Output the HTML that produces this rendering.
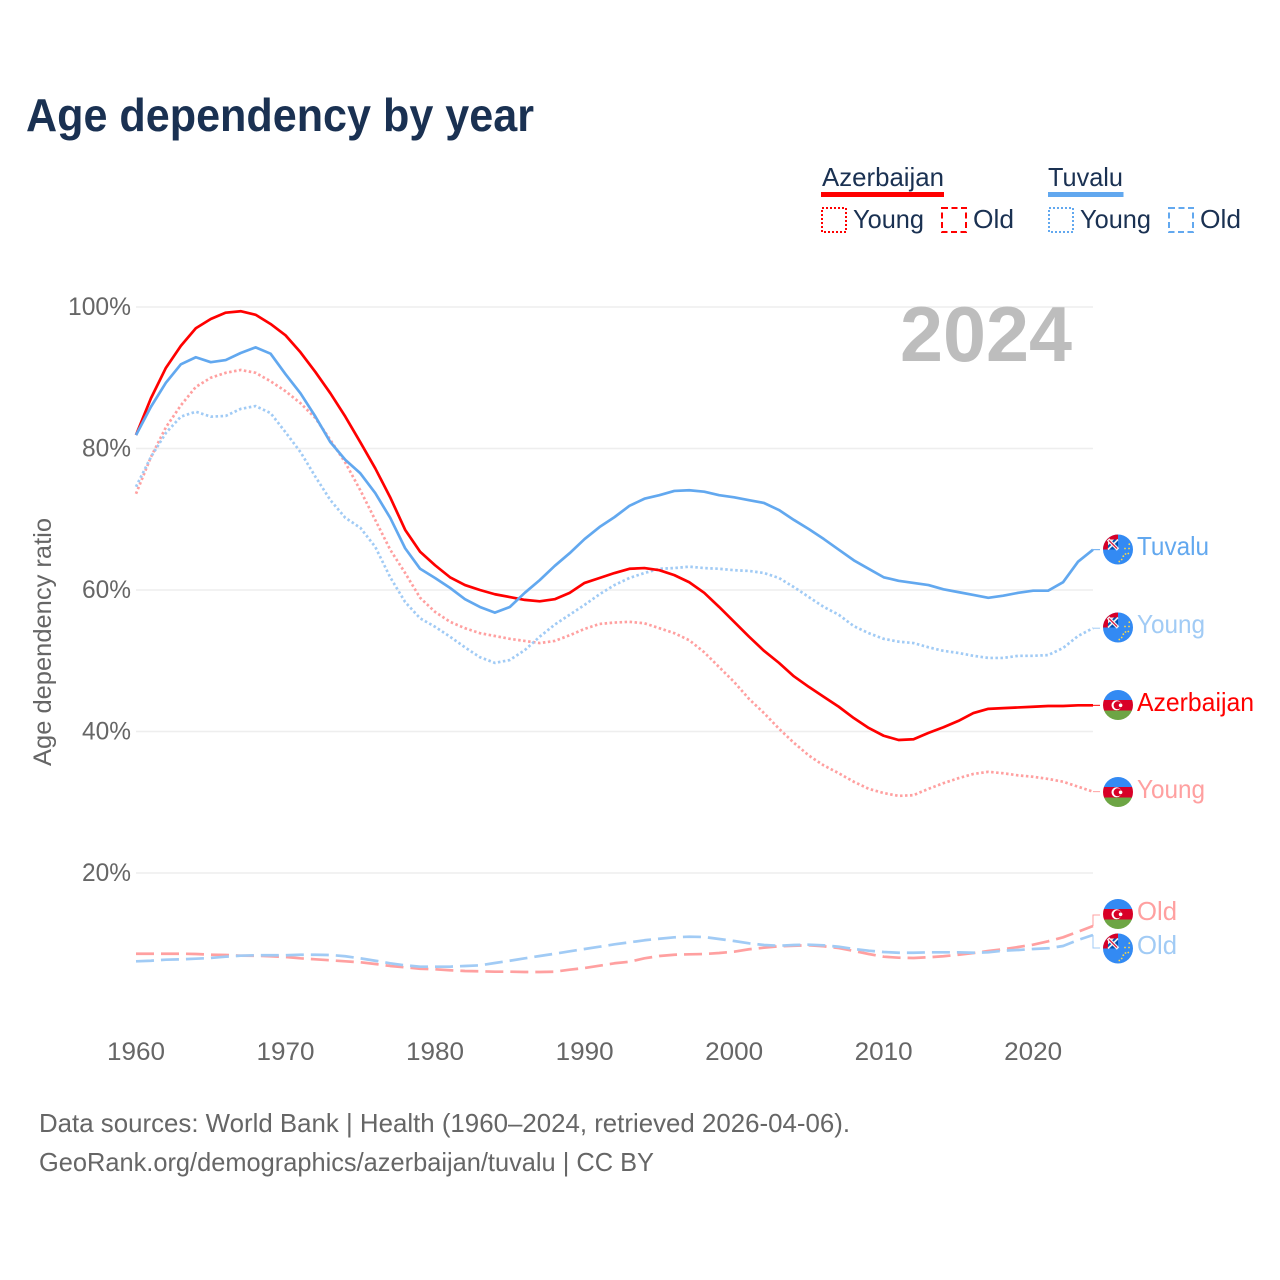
<!DOCTYPE html>
<html lang="en">
<head>
<meta charset="utf-8">
<title>Age dependency by year</title>
<style>
html,body{margin:0;padding:0;background:#fff;}
svg{display:block;font-family:"Liberation Sans",sans-serif;}
</style>
</head>
<body>
<svg id="chart" xmlns="http://www.w3.org/2000/svg" width="1280" height="1280" viewBox="0 0 1280 1280">
<defs>
<clipPath id="flag-clip"><circle cx="0" cy="0" r="15"/></clipPath>
<g id="flag-az" clip-path="url(#flag-clip)">
<rect x="-15" y="-15" width="30" height="10" fill="#338af3"/>
<rect x="-15" y="-5" width="30" height="10.5" fill="#d80027"/>
<rect x="-15" y="5.5" width="30" height="10" fill="#6da544"/>
<circle cx="-1.5" cy="0.3" r="5" fill="#fff"/>
<circle cx="-0.4" cy="0.3" r="4" fill="#d80027"/>
<circle cx="2.6" cy="0.3" r="1.8" fill="#fff"/>
</g>
<g id="flag-tv" clip-path="url(#flag-clip)">
<rect x="-15" y="-15" width="30" height="30" fill="#338af3"/>
<rect x="-15" y="-15" width="15" height="15" fill="#d80027"/>
<rect x="-10" y="-10" width="10" height="10" fill="#0052b4"/>
<line x1="-10" y1="-10" x2="0" y2="0" stroke="#f0f0f0" stroke-width="3.4"/>
<line x1="-10" y1="0" x2="0" y2="-10" stroke="#f0f0f0" stroke-width="1.6"/>
<polygon points="-10,-10 -4,-10 -10,-4" fill="#f0f0f0"/>
<line x1="-9" y1="-9" x2="-1" y2="-1" stroke="#d80027" stroke-width="1.1"/>
<circle cx="11.3" cy="-5.3" r="0.9" fill="#ffda44"/>
<circle cx="7" cy="-1" r="0.9" fill="#ffda44"/>
<circle cx="10.3" cy="4" r="0.9" fill="#ffda44"/>
<circle cx="11" cy="-1" r="0.9" fill="#ffda44"/>
<circle cx="5.3" cy="6.7" r="0.9" fill="#ffda44"/>
<circle cx="7.5" cy="4.5" r="0.9" fill="#ffda44"/>
<circle cx="3.7" cy="10" r="0.9" fill="#ffda44"/>
<circle cx="1.3" cy="12" r="0.9" fill="#ffda44"/>
</g>
</defs>

<text x="26" y="131" font-size="46" font-weight="700" fill="#1a3152" textLength="508" lengthAdjust="spacingAndGlyphs">Age dependency by year</text>

<g font-size="26" fill="#1a3152">
<text x="822" y="186" textLength="122" lengthAdjust="spacingAndGlyphs">Azerbaijan</text>
<rect x="821" y="192" width="123" height="5" fill="#ff0000"/>
<rect x="822" y="208" width="24" height="24" fill="none" stroke="#ff0000" stroke-width="2" stroke-dasharray="2 2"/>
<text x="853" y="228" textLength="71" lengthAdjust="spacingAndGlyphs">Young</text>
<rect x="942" y="208" width="24" height="24" fill="none" stroke="#ff0000" stroke-width="2" stroke-dasharray="6 3.5"/>
<text x="973" y="228" textLength="41" lengthAdjust="spacingAndGlyphs">Old</text>
<text x="1048" y="186" textLength="75" lengthAdjust="spacingAndGlyphs">Tuvalu</text>
<rect x="1048" y="192" width="75.500" height="5" fill="#62a8ef"/>
<rect x="1049" y="208" width="24" height="24" fill="none" stroke="#62a8ef" stroke-width="2" stroke-dasharray="2 2"/>
<text x="1080" y="228" textLength="71" lengthAdjust="spacingAndGlyphs">Young</text>
<rect x="1169" y="208" width="24" height="24" fill="none" stroke="#62a8ef" stroke-width="2" stroke-dasharray="6 3.5"/>
<text x="1200" y="228" textLength="41" lengthAdjust="spacingAndGlyphs">Old</text>
</g>

<text transform="translate(51,642) rotate(-90)" text-anchor="middle" font-size="25" fill="#666" textLength="248" lengthAdjust="spacingAndGlyphs">Age dependency ratio</text>

<g id="grid"></g>
<g id="y-ticks" font-size="25" fill="#666" text-anchor="end"></g>
<g id="x-ticks" font-size="25" fill="#666" text-anchor="middle"></g>

<text x="900" y="361" font-size="78" font-weight="700" fill="#bdbdbd" textLength="172" lengthAdjust="spacingAndGlyphs">2024</text>

<g id="series"></g>

<g font-size="26">
<use href="#flag-tv" x="1118" y="549.5"/>
<text x="1137" y="555" fill="#62a8ef" textLength="72" lengthAdjust="spacingAndGlyphs">Tuvalu</text>
<use href="#flag-tv" x="1118" y="627.500"/>
<text x="1137" y="633" fill="#a1cbf5" textLength="68" lengthAdjust="spacingAndGlyphs">Young</text>
<use href="#flag-az" x="1118" y="705"/>
<text x="1137" y="711" fill="#ff0000" textLength="117" lengthAdjust="spacingAndGlyphs">Azerbaijan</text>
<use href="#flag-az" x="1118" y="792"/>
<text x="1137" y="798" fill="#ffa0a0" textLength="68" lengthAdjust="spacingAndGlyphs">Young</text>
<use href="#flag-az" x="1118" y="914"/>
<text x="1137" y="920" fill="#ffa0a0" textLength="40" lengthAdjust="spacingAndGlyphs">Old</text>
<use href="#flag-tv" x="1118" y="948.500"/>
<text x="1137" y="954" fill="#a1cbf5" textLength="40" lengthAdjust="spacingAndGlyphs">Old</text>
</g>

<g font-size="26" fill="#666">
<text x="39" y="1132" textLength="811" lengthAdjust="spacingAndGlyphs">Data sources: World Bank | Health (1960–2024, retrieved 2026-04-06).</text>
<text x="39" y="1171" textLength="615" lengthAdjust="spacingAndGlyphs">GeoRank.org/demographics/azerbaijan/tuvalu | CC BY</text>
</g>
</svg>

<script>
const firstYear = 1960;
const xTickYears = [1960, 1970, 1980, 1990, 2000, 2010, 2020];
const yTickValues = [20, 40, 60, 80, 100];

const azerbaijanTotal = [81.9,87.1,91.4,94.5,97.0,98.3,99.2,99.4,98.9,97.6,96.0,93.6,90.8,87.8,84.5,80.9,77.2,73.1,68.5,65.4,63.5,61.8,60.7,60.0,59.4,59.0,58.6,58.4,58.7,59.6,61.0,61.7,62.4,63.0,63.1,62.8,62.1,61.1,59.6,57.6,55.5,53.4,51.4,49.7,47.8,46.3,44.9,43.5,41.9,40.5,39.4,38.8,38.9,39.8,40.6,41.5,42.6,43.2,43.3,43.4,43.5,43.6,43.6,43.7,43.7];
const azerbaijanYoung = [73.6,78.8,83.0,86.1,88.7,90.0,90.7,91.1,90.7,89.5,88.1,86.4,84.3,81.2,78.0,74.1,69.9,65.7,62.4,58.9,56.9,55.5,54.6,53.9,53.5,53.1,52.8,52.5,52.8,53.6,54.5,55.2,55.4,55.5,55.3,54.6,53.9,52.9,51.2,49.1,47.0,44.6,42.6,40.4,38.4,36.6,35.2,34.1,32.9,31.9,31.3,30.9,31.0,31.9,32.7,33.4,34.0,34.3,34.1,33.8,33.6,33.3,32.9,32.2,31.5];
const azerbaijanOld = [8.59,8.59,8.59,8.59,8.55,8.45,8.41,8.31,8.30,8.23,8.13,7.94,7.80,7.66,7.52,7.38,7.14,6.86,6.67,6.47,6.39,6.25,6.15,6.11,6.05,6.05,6.01,6.01,6.05,6.33,6.57,6.90,7.24,7.46,7.94,8.27,8.45,8.51,8.55,8.69,8.88,9.22,9.44,9.64,9.72,9.78,9.64,9.40,8.98,8.55,8.17,8.03,7.99,8.09,8.23,8.45,8.69,8.98,9.22,9.54,9.87,10.35,10.91,11.70,12.51];
const tuvaluTotal = [81.9,85.9,89.3,91.9,92.9,92.2,92.5,93.5,94.3,93.4,90.5,87.8,84.5,80.9,78.4,76.5,73.7,70.2,65.9,63.0,61.7,60.3,58.7,57.6,56.8,57.6,59.6,61.4,63.4,65.2,67.2,68.9,70.3,71.9,72.9,73.4,74.0,74.1,73.9,73.4,73.1,72.7,72.3,71.3,69.9,68.6,67.2,65.7,64.2,63.0,61.8,61.3,61.0,60.7,60.1,59.7,59.3,58.9,59.2,59.6,59.9,59.9,61.1,64.0,65.7];
const tuvaluYoung = [74.6,78.8,82.2,84.5,85.2,84.5,84.6,85.6,86.0,85.0,82.3,79.5,76.0,72.7,70.2,68.8,66.1,61.8,58.3,56.0,54.8,53.4,51.9,50.5,49.7,50.1,51.5,53.4,55.1,56.5,57.9,59.4,60.7,61.7,62.4,63.0,63.1,63.3,63.1,63.0,62.8,62.7,62.4,61.7,60.4,59.0,57.6,56.5,54.9,53.9,53.1,52.7,52.5,51.9,51.4,51.1,50.7,50.4,50.4,50.7,50.7,50.8,51.8,53.5,54.6];
const tuvaluOld = [7.52,7.60,7.75,7.80,7.89,7.99,8.17,8.31,8.37,8.37,8.37,8.45,8.45,8.41,8.23,7.94,7.60,7.24,6.95,6.76,6.76,6.76,6.86,6.95,7.28,7.60,7.94,8.27,8.59,8.93,9.26,9.58,9.92,10.20,10.49,10.71,10.91,11.00,10.95,10.67,10.39,10.06,9.82,9.72,9.82,9.87,9.78,9.58,9.26,9.02,8.83,8.73,8.73,8.79,8.79,8.79,8.73,8.79,9.02,9.12,9.26,9.36,9.68,10.53,11.24];

const svgNS = 'http://www.w3.org/2000/svg';
const xScale = function (year) { return 136 + (year - firstYear) * 14.953; };
const yScale = function (value) { return 873 - (value - 20) * 7.075; };
const makeEl = function (tag) { return document.createElementNS(svgNS, tag); };

const gridGroup = document.getElementById('grid');
const yTickGroup = document.getElementById('y-ticks');
const xTickGroup = document.getElementById('x-ticks');
const seriesGroup = document.getElementById('series');

yTickValues.forEach(function (v) {
  const line = makeEl('line');
  
  
  line.setAttribute('x1', 136);
  line.setAttribute('x2', xScale(2024));
  line.setAttribute('y1', yScale(v));
  line.setAttribute('y2', yScale(v));
  line.setAttribute('stroke', '#eeeeee');
  line.setAttribute('stroke-width', 1.6);
  gridGroup.appendChild(line);

  const label = makeEl('text');
  
  
  label.setAttribute('x', 131);
  label.setAttribute('y', yScale(v) + 8);
  label.setAttribute('textLength', v === 100 ? 63 : 49);
  label.setAttribute('lengthAdjust', 'spacingAndGlyphs');
  label.textContent = v + '%';
  yTickGroup.appendChild(label);
});

xTickYears.forEach(function (yr) {
  const label = makeEl('text');
  
  
  label.setAttribute('x', xScale(yr));
  label.setAttribute('y', 1060);
  label.setAttribute('textLength', 58);
  label.setAttribute('lengthAdjust', 'spacingAndGlyphs');
  label.textContent = yr;
  xTickGroup.appendChild(label);
});

const drawLine = function (values, name, color, dash, endY, endX) {
  const pts = values.map(function (v, i) {
    return xScale(firstYear + i).toFixed(2) + ',' + yScale(v).toFixed(2);
  }).join(' ');
  const lastY = yScale(values[values.length - 1]);
  const lastX = xScale(firstYear + values.length - 1);

  const conn = makeEl('polyline');
  
  
  conn.setAttribute('points', lastX + ',' + lastY + ' ' + lastX + ',' + (endY === null ? lastY : endY) + ' ' + endX + ',' + (endY === null ? lastY : endY));
  conn.setAttribute('fill', 'none');
  conn.setAttribute('stroke', color);
  conn.setAttribute('stroke-width', 1);
  seriesGroup.appendChild(conn);

  const line = makeEl('polyline');
  
  
  line.setAttribute('points', pts);
  line.setAttribute('fill', 'none');
  line.setAttribute('stroke', color);
  line.setAttribute('stroke-width', 2.7);
  line.setAttribute('stroke-linejoin', 'round');
  if (dash) { line.setAttribute('stroke-dasharray', dash); }
  seriesGroup.appendChild(line);
};

const dotted = '2.5 2.5';
const dashed = '18 7';
drawLine(azerbaijanOld, 'azerbaijan-old-line', '#ffa0a0', dashed, 915, 1100);
drawLine(tuvaluOld, 'tuvalu-old-line', '#a1cbf5', dashed, 948, 1100);
drawLine(azerbaijanYoung, 'azerbaijan-young-line', '#ffa0a0', dotted, null, 1100);
drawLine(tuvaluYoung, 'tuvalu-young-line', '#a1cbf5', dotted, null, 1100);
drawLine(azerbaijanTotal, 'azerbaijan-total-line', '#ff0000', null, null, 1100);
drawLine(tuvaluTotal, 'tuvalu-total-line', '#62a8ef', null, null, 1100);
</script>
</body>
</html>
